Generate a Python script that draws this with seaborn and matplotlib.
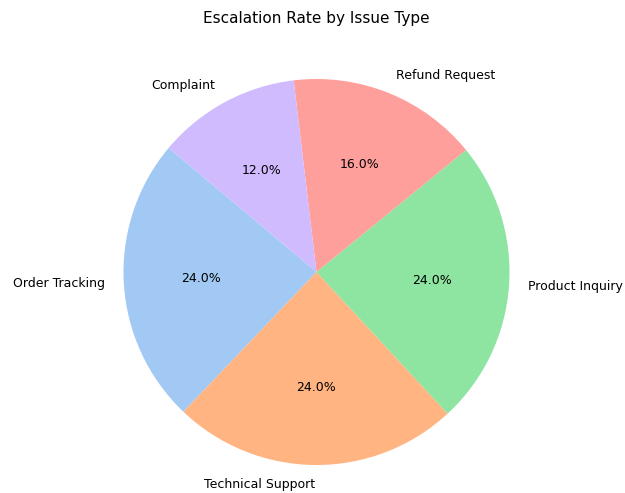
import matplotlib
matplotlib.use("Agg")
import matplotlib.pyplot as plt
import seaborn as sns

categories = ["Order Tracking", "Technical Support", "Product Inquiry", "Refund Request", "Complaint"]
values = [24.0, 24.0, 24.0, 16.0, 12.0]

sns.set_theme(style="white")
plt.rcParams['font.family'] = ['DejaVu Sans']
plt.rcParams['text.color'] = 'black'
colors = sns.color_palette("pastel")[:5]

fig = plt.figure(figsize=(6.25, 4.93), dpi=100)
ax = fig.add_axes([123/625, 28/493, 387/625, 386/493])
ax.pie(values, labels=categories, colors=colors, autopct="%1.1f%%", startangle=140,
       textprops={"fontsize": 9, "color": "black"},
       wedgeprops={"linewidth": 0, "edgecolor": "none"})
ax.set_xlim(-1, 1)
ax.set_ylim(-1, 1)
ax.set_aspect("equal")
fig.text(316/625, 1 - 18/493, "Escalation Rate by Issue Type", ha="center", va="center",
         fontsize=11, color="black")
fig.savefig("out.png", dpi=100)
